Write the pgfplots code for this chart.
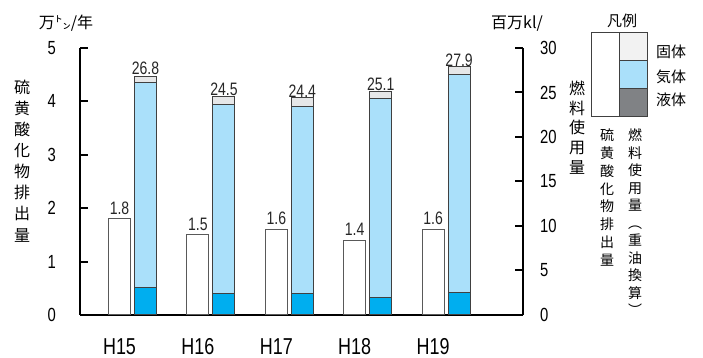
\documentclass[border=0pt]{standalone}
\usepackage{pgfplots}
\pgfplotsset{compat=1.18}
\usepackage{pgfplotstable}
\usepackage{fontspec}
\setmainfont{Noto Sans CJK JP}
\newfontfamily\numfont[FakeStretch=0.78]{Liberation Sans}
\definecolor{gasblue}{HTML}{AAE0FA}
\definecolor{liqblue}{HTML}{00AEEF}
\definecolor{solidgray}{HTML}{E6E7E8}
\definecolor{leggray}{HTML}{808285}
\definecolor{legsolid}{HTML}{F2F2F2}

\pgfplotstableread{
x so2 liq gas sol tot
0 1.8 3.1 23.0 0.7 26.8
1 1.5 2.4 21.3 0.8 24.5
2 1.6 2.4 21.0 1.0 24.4
3 1.4 2.0 22.3 0.8 25.1
4 1.6 2.5 24.5 0.9 27.9
}\datatable

\tikzset{valfont/.style={font=\numfont\fontsize{18}{18}\selectfont}}
\pgfplotsset{
  common/.style={
    at={(80pt,43pt)}, anchor=south west, scale only axis,
    width=443pt, height=267pt,
    xmin=-0.504, xmax=5.147, ymin=0,
    axis line style={-, line width=2pt, black},
    tick align=inside, major tick length=8pt,
    ytick style={line width=2pt, black},
    /pgf/number format/assume math mode=true,
    clip=false,
  },
}

\begin{document}
\begin{tikzpicture}[x=1pt,y=1pt]
\useasboundingbox (0,0) rectangle (703,358);

\begin{axis}[common,
  ymax=5, ytick={0,1,2,3,4,5},
  axis x line*=bottom, axis y line*=left,
  xtick={0,1,2,3,4}, xticklabels={H15,H16,H17,H18,H19},
  xtick style={draw=none},
  yticklabel style={font=\numfont\fontsize{19}{19}\selectfont, anchor=east, inner sep=0pt, xshift=-24pt},
  xticklabel style={font=\numfont\fontsize{23}{23}\selectfont, anchor=north, inner sep=0pt, yshift=-23pt},
]
\addplot[ybar, bar width=0.28, bar shift=0pt, fill=white, draw=black!65, line width=1pt,
  nodes near coords={\pgfmathprintnumber[fixed,precision=1,fixed zerofill,assume math mode=true]{\pgfplotspointmeta}},
  nodes near coords style={valfont, anchor=south, inner sep=4pt, text=black!85}]
  table[x=x, y=so2]{\datatable};
\end{axis}

\begin{axis}[common,
  ymax=30, ytick={0,5,10,15,20,25,30},
  axis y line*=right, axis x line=none,
  yticklabel style={font=\numfont\fontsize{19}{19}\selectfont, anchor=west, inner sep=0pt, xshift=17pt},
  ybar stacked, bar width=0.28, bar shift=0pt,
]
\addplot[fill=liqblue, draw=black!75, line width=1pt] table[x expr=\thisrow{x}+0.332, y=liq]{\datatable};
\addplot[fill=gasblue, draw=black!75, line width=1pt] table[x expr=\thisrow{x}+0.332, y=gas]{\datatable};
\addplot[fill=solidgray, draw=black!75, line width=1pt, point meta=explicit,
  nodes near coords={\pgfmathprintnumber[fixed,precision=1,fixed zerofill,assume math mode=true]{\pgfplotspointmeta}},
  nodes near coords style={valfont, anchor=south, inner sep=4pt, text=black!85}]
  table[x expr=\thisrow{x}+0.332, y=sol, meta=tot]{\datatable};
\end{axis}

% axis titles
\node[font=\fontsize{16}{16}\selectfont, inner sep=0] at (66,335) {万㌧/年};
\node[font=\fontsize{16}{16}\selectfont, inner sep=0] at (517,334) {百万kl/};
\node[font=\fontsize{16}{21.1}\selectfont, align=center, inner sep=0] at (22,197)
  {硫\\黄\\酸\\化\\物\\排\\出\\量};
\node[font=\fontsize{16}{19.6}\selectfont, align=center, inner sep=0] at (577,230.5)
  {燃\\料\\使\\用\\量};

% legend
\node[font=\fontsize{15}{15}\selectfont, inner sep=0] at (622,337) {凡例};
\fill[white] (591,241) rectangle (619,325);
\fill[legsolid] (619,297) rectangle (647,325);
\fill[gasblue] (619,269) rectangle (647,297);
\fill[leggray] (619,241) rectangle (647,269);
\draw[black!75, line width=1pt] (591,241) rectangle (647,325);
\draw[black!75, line width=1pt] (619,241) -- (619,325);
\draw[black!75, line width=1pt] (619,297) -- (647,297);
\draw[black!75, line width=1pt] (619,269) -- (647,269);
\node[font=\fontsize{15}{15}\selectfont, inner sep=0] at (671,306) {固体};
\node[font=\fontsize{15}{15}\selectfont, inner sep=0] at (671,281) {気体};
\node[font=\fontsize{15}{15}\selectfont, inner sep=0] at (671,258) {液体};
\node[font=\fontsize{14}{17.9}\selectfont, align=center, inner sep=0] at (607,160.5)
  {硫\\黄\\酸\\化\\物\\排\\出\\量};
\node[font=\fontsize{14}{17.5}\selectfont, align=center, inner sep=0] at (635,135.5)
  {燃\\料\\使\\用\\量\\︵\\重\\油\\換\\算\\︶};
\end{tikzpicture}
\end{document}
